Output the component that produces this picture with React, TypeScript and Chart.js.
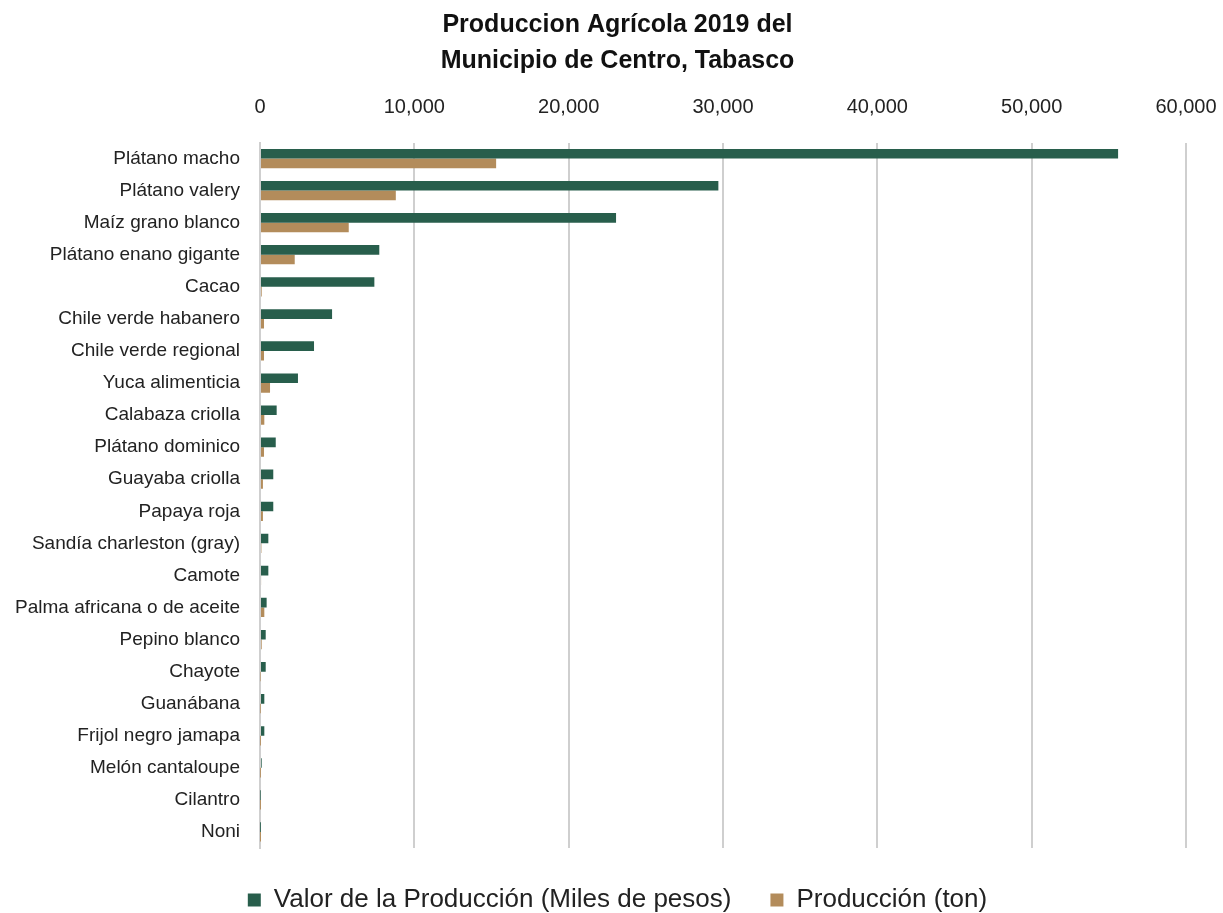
import React, { useEffect, useRef } from "react";
import { Chart, registerables } from "chart.js";

Chart.register(...registerables);

const categories = [
  "Plátano macho",
  "Plátano valery",
  "Maíz grano blanco",
  "Plátano enano gigante",
  "Cacao",
  "Chile verde habanero",
  "Chile verde regional",
  "Yuca alimenticia",
  "Calabaza criolla",
  "Plátano dominico",
  "Guayaba criolla",
  "Papaya roja",
  "Sandía charleston (gray)",
  "Camote",
  "Palma africana o de aceite",
  "Pepino blanco",
  "Chayote",
  "Guanábana",
  "Frijol negro jamapa",
  "Melón cantaloupe",
  "Cilantro",
  "Noni",
];

const valorProduccion = [
  55600, 29700, 23070, 7730, 7410, 4670, 3500, 2460, 1080, 1020, 860, 860, 540,
  540, 430, 370, 370, 280, 280, 110, 20, 10,
];

const produccionTon = [
  15300, 8800, 5750, 2250, 110, 260, 260, 650, 280, 260, 190, 190, 90, 70, 280,
  110, 30, 20, 10, 10, 5, 2,
];

const xTicks = [0, 10000, 20000, 30000, 40000, 50000, 60000];

const titleLines = ["Produccion Agrícola 2019 del", "Municipio de Centro, Tabasco"];
const seriesNames = ["Valor de la Producción (Miles de pesos)", "Producción (ton)"];

const FONT = "'Liberation Sans', Arial, sans-serif";

export default function App() {
  const ref = useRef<HTMLCanvasElement | null>(null);

  useEffect(() => {
    if (!ref.current) return;
    const chart = new Chart(ref.current, {
      type: "bar",
      data: {
        labels: categories,
        datasets: [
          {
            label: seriesNames[0],
            data: valorProduccion,
            backgroundColor: "#285E4C",
            borderWidth: 0,
            categoryPercentage: 0.6,
            barPercentage: 1,
          },
          {
            label: seriesNames[1],
            data: produccionTon,
            backgroundColor: "#B38C5B",
            borderWidth: 0,
            categoryPercentage: 0.6,
            barPercentage: 1,
          },
        ],
      },
      options: {
        indexAxis: "y",
        animation: false,
        responsive: false,
        maintainAspectRatio: false,
        layout: { padding: { left: 12, right: 0, top: 3, bottom: -10 } },
        plugins: {
          title: {
            display: true,
            text: titleLines,
            color: "#111",
            font: { family: FONT, size: 25, weight: "bold", lineHeight: 1.45 },
            padding: { top: 4, bottom: 16 },
          },
          legend: {
            position: "bottom",
            labels: {
              color: "#222",
              font: { family: FONT, size: 26 },
              boxWidth: 13,
              boxHeight: 13,
              padding: 39,
            },
          },
          tooltip: { enabled: false },
        },
        scales: {
          x: {
            position: "top",
            min: 0,
            max: 60000,
            afterBuildTicks: (s: any) => {
              s.ticks = xTicks.map((v) => ({ value: v }));
            },
            afterFit: (s: any) => {
              s.height = 47;
              s.paddingRight = 37;
              s.paddingLeft = 0;
            },
            ticks: {
              color: "#222",
              font: { family: FONT, size: 20 },
              padding: 23,
              callback: (v: any) => Number(v).toLocaleString("en-US"),
            },
            grid: { color: "#cfcfcf", lineWidth: 2, drawTicks: false },
            border: { display: false },
          },
          y: {
            ticks: {
              color: "#222",
              font: { family: FONT, size: 19 },
              padding: 20,
              autoSkip: false,
            },
            grid: { display: false, drawTicks: false },
            border: { display: true, color: "#cfcfcf", width: 2 },
            afterFit: (s: any) => {
              s.width = 248;
            },
          },
        },
      },
    });
    return () => chart.destroy();
  }, []);

  return (
    <div style={{ position: "absolute", left: 0, top: 0, width: 1223, height: 913, background: "#fff" }}>
      <canvas ref={ref} width={1223} height={913} />
    </div>
  );
}
